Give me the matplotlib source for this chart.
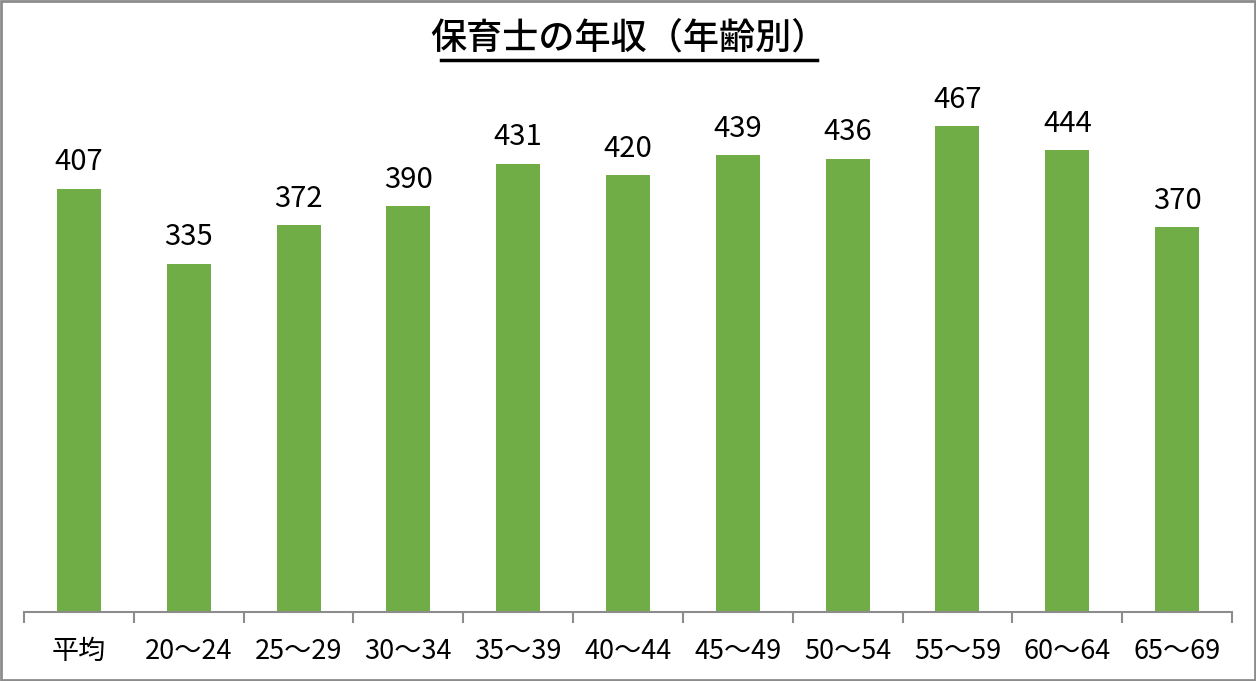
import matplotlib
matplotlib.use('Agg')
import matplotlib.pyplot as plt
from matplotlib.patches import Rectangle
from matplotlib.lines import Line2D
import numpy as np

plt.rcParams['font.family'] = ['Noto Sans CJK JP', 'DejaVu Sans']

# 年齢別の年収（万円）
categories = ['平均', '20～24', '25～29', '30～34', '35～39', '40～44',
              '45～49', '50～54', '55～59', '60～64', '65～69']
values = [407, 335, 372, 390, 431, 420, 439, 436, 467, 444, 370]

bar_color = '#70AD47'
axis_color = '#8C8C8C'

fig = plt.figure(figsize=(12.56, 6.81), dpi=100)
ax = fig.add_axes([24 / 1256, 69 / 681, 1208 / 1256, 520 / 681])

x = np.arange(len(categories))
bars = ax.bar(x, values, width=0.4, color=bar_color, zorder=2)

for xi, v in zip(x, values):
    ax.text(xi, v + 11, str(v), ha='center', va='bottom', fontsize=21)

ax.set_xlim(-0.5, len(categories) - 0.5)
ax.set_ylim(0, 500)
ax.set_yticks([])
ax.set_xticks(x)
ax.set_xticklabels(categories, fontsize=19.5)
ax.tick_params(axis='x', which='major', length=0, pad=19)
ax.set_xticks(np.arange(-0.5, len(categories), 1.0), minor=True)
ax.tick_params(axis='x', which='minor', length=8, width=1.5, color=axis_color)
for s in ['top', 'right', 'left']:
    ax.spines[s].set_visible(False)
ax.spines['bottom'].set_color(axis_color)
ax.spines['bottom'].set_linewidth(1.5)

# タイトル（下線付き）
fig.text(629 / 1256, 1 - 39 / 681, '保育士の年収（年齢別）', ha='center', va='center',
         fontsize=26, fontweight='medium')
fig.add_artist(Line2D([441 / 1256, 817 / 1256], [1 - 60 / 681, 1 - 60 / 681],
                      color='black', linewidth=2.5, transform=fig.transFigure))

# 外枠
fig.add_artist(Rectangle((1 / 1256, 1 / 681), 1 - 2 / 1256, 1 - 2 / 681,
                         fill=False, edgecolor=axis_color, linewidth=2,
                         transform=fig.transFigure))

plt.savefig('out.png', dpi=100)
plt.close()
